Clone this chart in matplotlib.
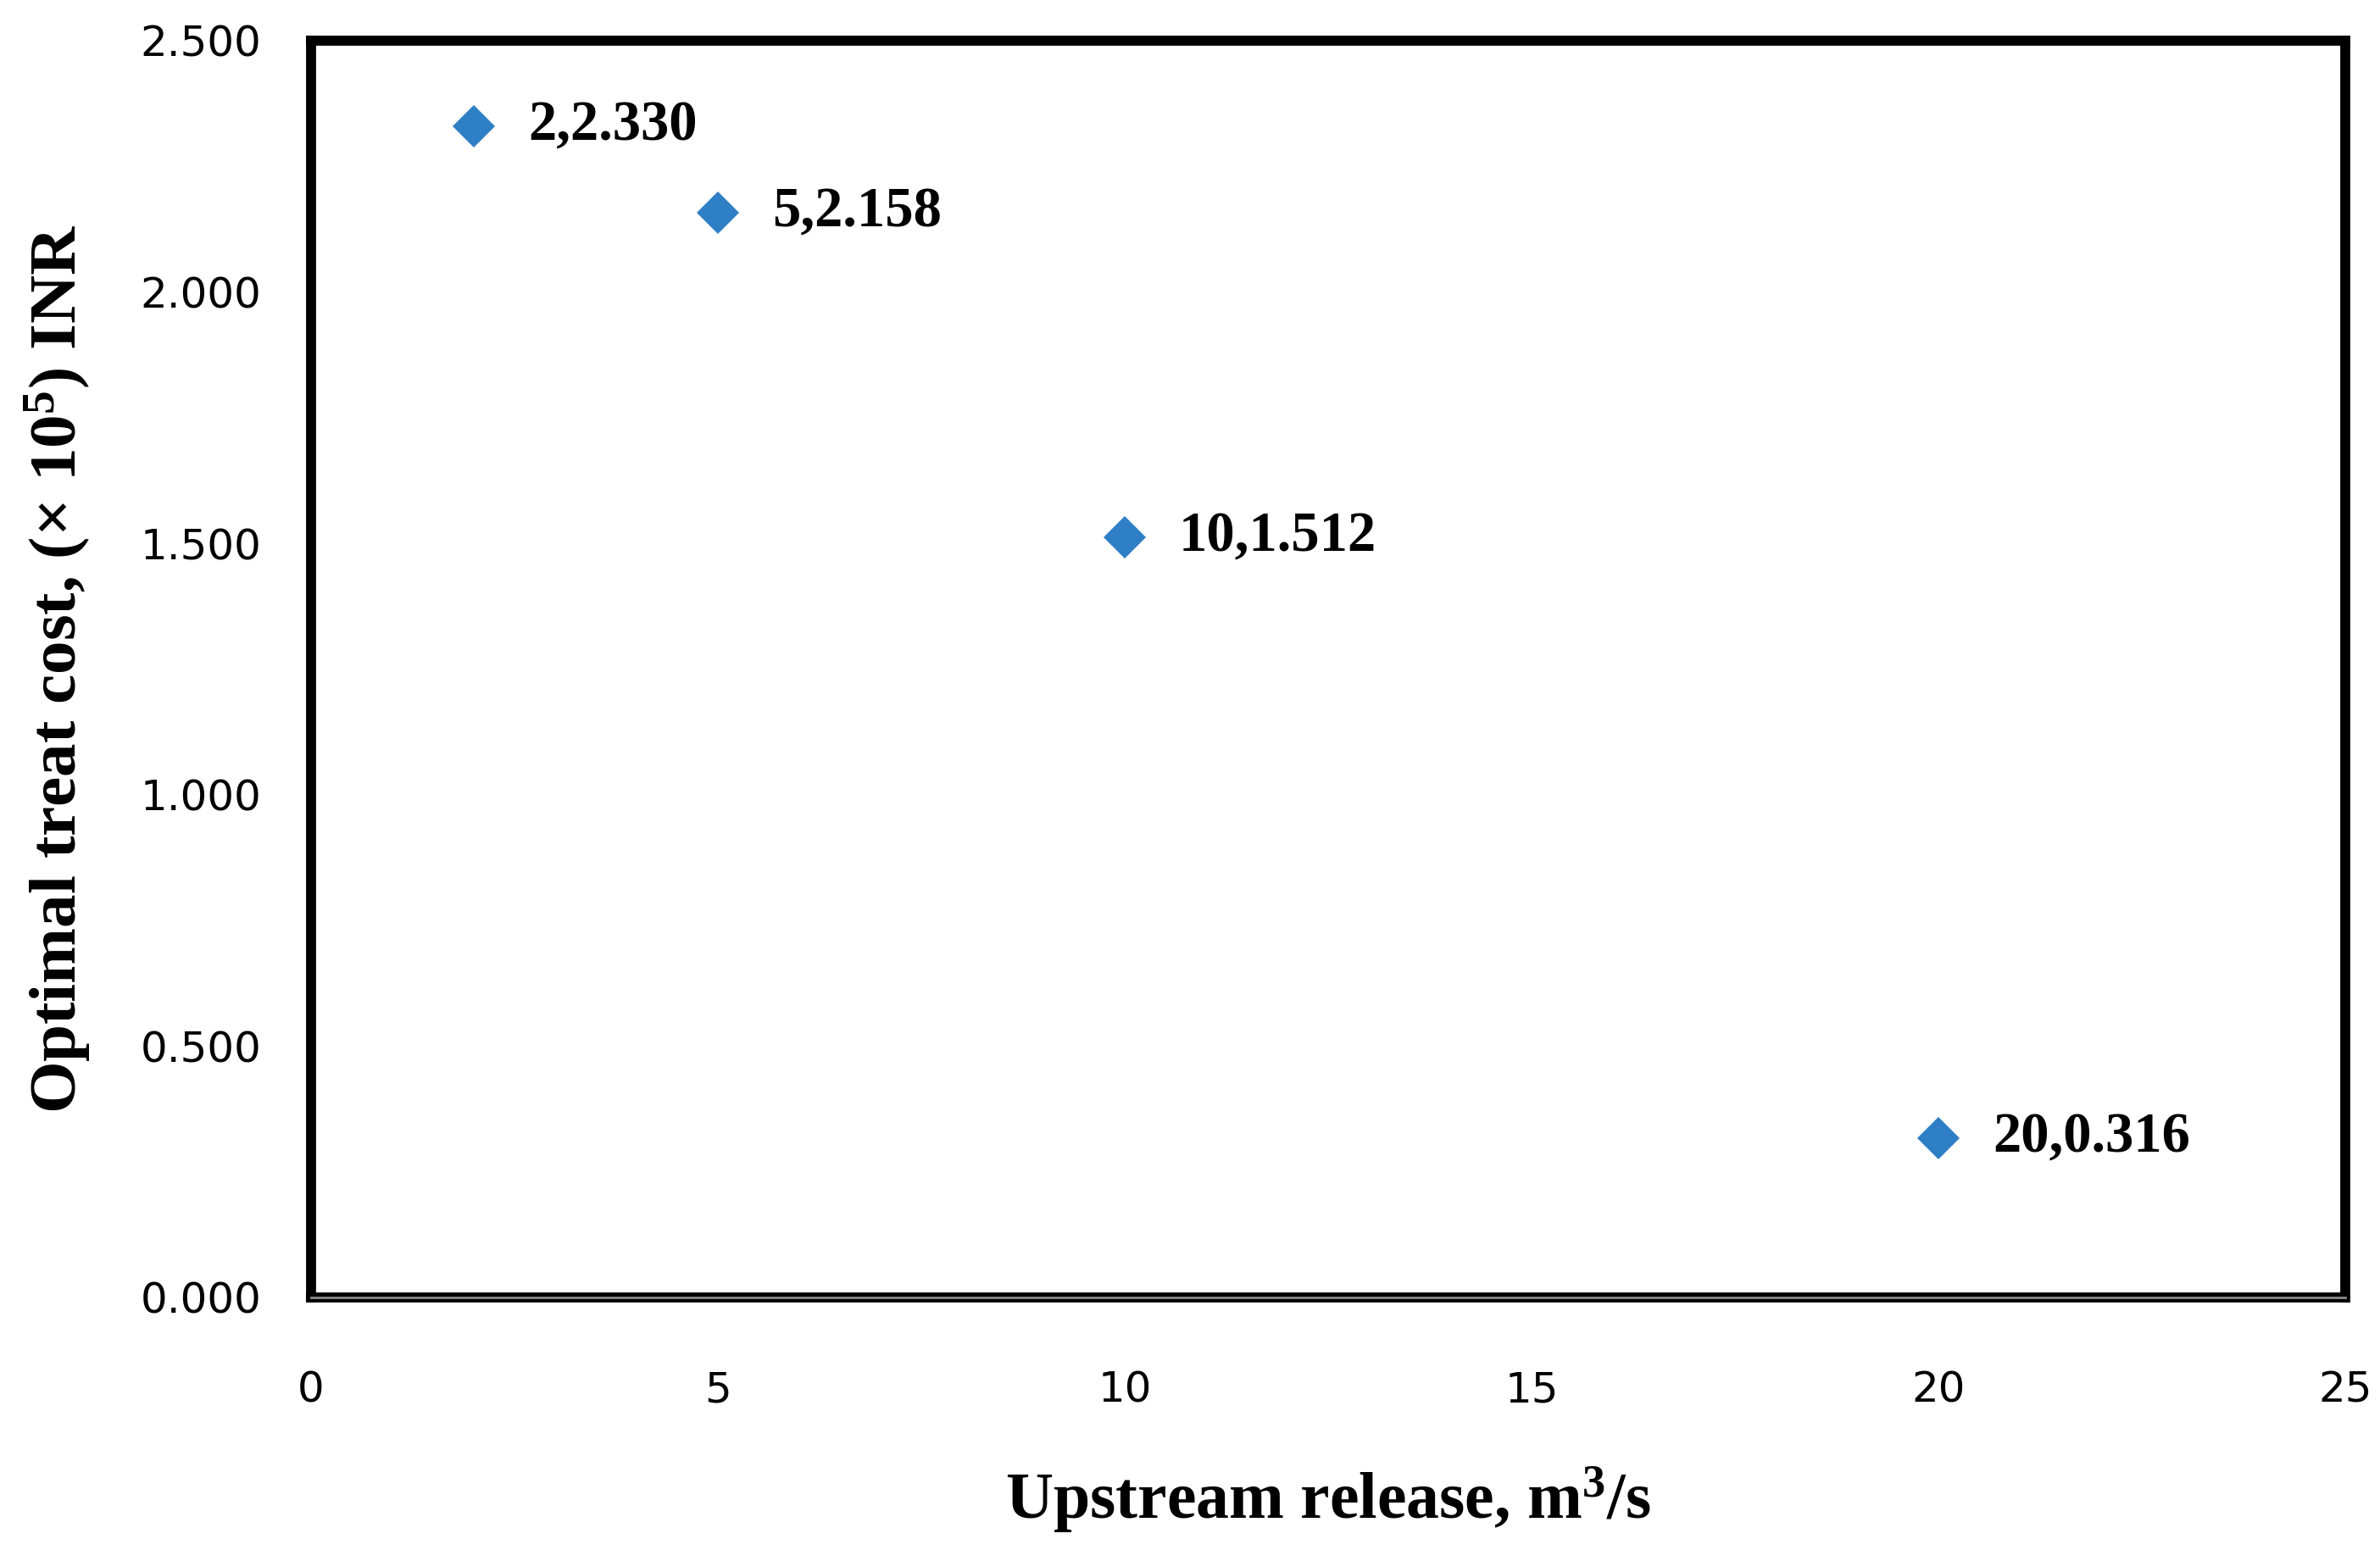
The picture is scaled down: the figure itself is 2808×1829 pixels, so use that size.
import matplotlib
matplotlib.use('Agg')
import matplotlib.pyplot as plt

# data
release = [2, 5, 10, 20]
cost = [2.330, 2.158, 1.512, 0.316]
point_labels = ['2,2.330', '5,2.158', '10,1.512', '20,0.316']
x_ticks = [0, 5, 10, 15, 20, 25]
y_ticks = [0.0, 0.5, 1.0, 1.5, 2.0, 2.5]

plt.rcParams['mathtext.fontset'] = 'custom'
plt.rcParams['mathtext.rm'] = 'Liberation Serif:bold'
plt.rcParams['mathtext.it'] = 'Liberation Serif:bold'
plt.rcParams['mathtext.bf'] = 'Liberation Serif:bold'

fig = plt.figure(figsize=(28.08, 18.29), dpi=100)
ax = fig.add_axes([0.1307, 0.163, 0.8547, 0.8108])

ax.plot(release, cost, linestyle='none', marker='D', markersize=25,
        color='#2E7FC6', markeredgewidth=0, zorder=3)

for x, y, lab in zip(release, cost, point_labels):
    ax.annotate(lab, (x, y), xytext=(46, 0), textcoords='offset points',
                ha='left', va='center', fontsize=48, fontweight='bold',
                family='Liberation Serif', color='black')

ax.set_xlim(0, 25)
ax.set_ylim(0, 2.5)
ax.set_xticks(x_ticks)
ax.set_yticks(y_ticks)
ax.set_yticklabels([f'{v:.3f}' for v in y_ticks])
ax.tick_params(axis='both', length=0, labelsize=36, colors='black')
ax.tick_params(axis='x', pad=62)
ax.tick_params(axis='y', pad=42)

for s in ax.spines.values():
    s.set_linewidth(8.5)
    s.set_color('black')
# grey axis line running through the bottom frame
ax.axhline(0, color='#8a8a8a', linewidth=2, clip_on=False, zorder=5)

ax.set_xlabel('Upstream release, m$^{3}$/s', fontsize=56, fontweight='bold',
              family='Liberation Serif', va='center')
ax.set_ylabel('Optimal treat cost, (\u00d7 10$^{5}$) INR', fontsize=57,
              fontweight='bold', family='Liberation Serif', va='center')
ax.xaxis.set_label_coords(0.5, -0.161)
ax.yaxis.set_label_coords(-0.1246, 0.5)

fig.savefig('out.png', dpi=100, facecolor='white')
